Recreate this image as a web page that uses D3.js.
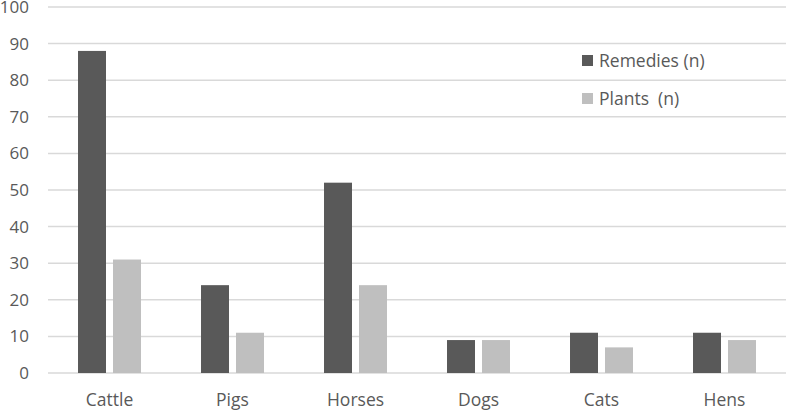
<!DOCTYPE html>
<html>
<head>
<meta charset="utf-8">
<script src="https://cdn.jsdelivr.net/npm/d3@7"></script>
<style>
  body { margin: 0; background: #fff; }
  text { font-family: "Open Sans", sans-serif; fill: #595959; }
</style>
</head>
<body>
<svg width="787" height="410"></svg>
<script>
// data
const categories = ["Cattle", "Pigs", "Horses", "Dogs", "Cats", "Hens"];
const seriesNames = ["Remedies (n)", "Plants  (n)"];
const remedies = [88, 24, 52, 9, 11, 11];
const plants = [31, 11, 24, 9, 7, 9];
const yTicks = [0, 10, 20, 30, 40, 50, 60, 70, 80, 90, 100];

const colors = ["#595959", "#bfbfbf"];

let svg = d3.select("svg");
let plotLeft = 48, plotRight = 786, plotTop = 7, plotBottom = 373;

let rows = categories.map((c, i) => ({ cat: c, vals: [remedies[i], plants[i]] }));

let x0 = d3.scaleBand()
  .domain(categories)
  .range([plotLeft, plotRight])
  .paddingInner(0.488)
  .paddingOuter(0.244);

let x1 = d3.scaleBand()
  .domain([0, 1])
  .range([0, x0.bandwidth()])
  .paddingInner(0.2);

let y = d3.scaleLinear().domain([0, 100]).range([plotBottom, plotTop]);

// gridlines
svg.append("g")
  .selectAll("line")
  .data(yTicks)
  .enter()
  .append("line")
  .attr("x1", plotLeft)
  .attr("x2", plotRight)
  .attr("y1", d => y(d))
  .attr("y2", d => y(d))
  .attr("stroke", "#d9d9d9")
  .attr("stroke-width", 1.5);

// y tick labels (the top one is clipped in the original too)
svg.append("g")
  .selectAll("text")
  .data(yTicks)
  .enter()
  .append("text")
  .attr("x", 29)
  .attr("y", d => y(d))
  .attr("dy", "0.35em")
  .attr("text-anchor", "end")
  .style("font-size", "17px")
  .text(d => d);

// bars
let group = svg.append("g")
  .selectAll("g")
  .data(rows)
  .enter()
  .append("g")
  .attr("transform", d => `translate(${x0(d.cat)},0)`);

group.selectAll("rect")
  .data(d => d.vals)
  .enter()
  .append("rect")
  .attr("x", (d, i) => x1(i))
  .attr("width", x1.bandwidth())
  .attr("y", d => y(d))
  .attr("height", d => y(0) - y(d))
  .attr("fill", (d, i) => colors[i]);

// category labels
svg.append("g")
  .selectAll("text")
  .data(categories)
  .enter()
  .append("text")
  .attr("x", d => x0(d) + x0.bandwidth() / 2)
  .attr("y", 406)
  .attr("text-anchor", "middle")
  .style("font-size", "17.5px")
  .text(d => d);

// legend
let legend = svg.append("g")
  .selectAll("g")
  .data(seriesNames)
  .enter()
  .append("g")
  .attr("transform", (d, i) => `translate(582,${61 + i * 38})`);

legend.append("rect")
  .attr("x", 0)
  .attr("y", -6)
  .attr("width", 11)
  .attr("height", 11)
  .attr("fill", (d, i) => colors[i]);

legend.append("text")
  .attr("x", 17)
  .attr("y", 0)
  .attr("dy", "0.35em")
  .style("font-size", "17.5px")
  .style("white-space", "pre")
  .text(d => d);
</script>
</body>
</html>
